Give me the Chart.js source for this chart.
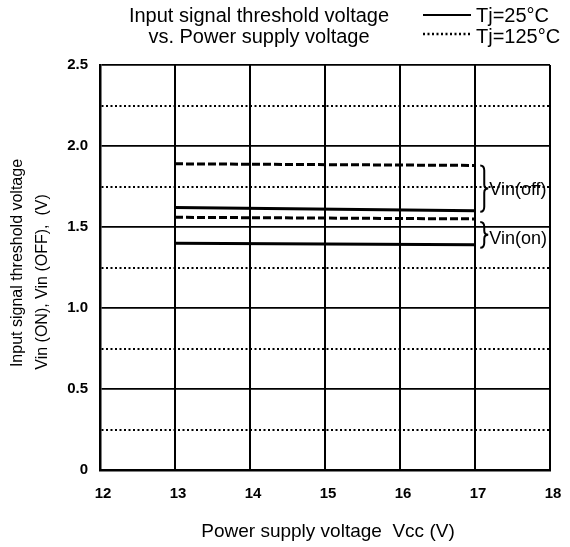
<!DOCTYPE html>
<html>
<head>
<meta charset="utf-8">
<script src="https://cdn.jsdelivr.net/npm/chart.js@4.4.0/dist/chart.umd.min.js"></script>
<style>
  html, body { margin: 0; padding: 0; background: #fff; }
  #wrap { width: 570px; height: 547px; position: relative; }
</style>
</head>
<body>
<div id="wrap"><canvas id="c"></canvas></div>
<script>
// supply voltage range covered by the measured lines
const vcc = [13, 17];
// threshold voltages (V)
const vinOff25 = [1.62, 1.60];
const vinOff125 = [1.89, 1.88];
const vinOn25 = [1.40, 1.39];
const vinOn125 = [1.56, 1.55];

const xTicks = [12, 13, 14, 15, 16, 17, 18];
const yTickLabels = { 0: '0', 0.5: '0.5', 1: '1.0', 1.5: '1.5', 2: '2.0', 2.5: '2.5' };

const FONT = "'Liberation Sans', Arial, sans-serif";

function pts(ys) {
    return vcc.map((x, i) => ({ x: x, y: ys[i] }));
}

function isMajor(v) {
    return Math.abs(v * 2 - Math.round(v * 2)) < 1e-6;
}

// titles, legend, axis titles and braces
const decorations = {
    id: 'decorations',
    afterDraw(chart) {
        const ctx = chart.ctx;
        const xs = chart.scales.x, ys = chart.scales.y;
        ctx.save();
        ctx.fillStyle = '#000';
        ctx.strokeStyle = '#000';

        // chart title
        ctx.font = '20px ' + FONT;
        ctx.textAlign = 'center';
        ctx.textBaseline = 'alphabetic';
        ctx.fillText('Input signal threshold voltage', 259, 22);
        ctx.fillText('vs. Power supply voltage', 259, 43);

        // legend
        ctx.lineWidth = 2;
        ctx.beginPath();
        ctx.moveTo(423, 15); ctx.lineTo(471, 15);
        ctx.stroke();
        ctx.lineWidth = 2.5;
        ctx.setLineDash([2, 2.5]);
        ctx.beginPath();
        ctx.moveTo(423, 34); ctx.lineTo(471, 34);
        ctx.stroke();
        ctx.setLineDash([]);
        ctx.textAlign = 'left';
        ctx.fillText('Tj=25°C', 476, 22);
        ctx.fillText('Tj=125°C', 476, 43);

        // y axis title
        ctx.font = '16px ' + FONT;
        ctx.textAlign = 'center';
        ctx.textBaseline = 'middle';
        ctx.save();
        ctx.translate(18, 263);
        ctx.rotate(-Math.PI / 2);
        ctx.fillText('Input signal threshold voltage', 0, 0);
        ctx.restore();
        ctx.save();
        ctx.translate(43, 282);
        ctx.rotate(-Math.PI / 2);
        ctx.fillText('Vin (ON), Vin (OFF),  (V)', 0, 0);
        ctx.restore();

        // x axis title
        ctx.font = '19px ' + FONT;
        ctx.textBaseline = 'alphabetic';
        ctx.fillText('Power supply voltage  Vcc (V)', 328, 537);

        // braces
        function brace(x0, yTop, yBot) {
            const w = 8;
            const mid = (yTop + yBot) / 2;
            ctx.lineWidth = 2;
            ctx.beginPath();
            ctx.moveTo(x0, yTop);
            ctx.quadraticCurveTo(x0 + w / 2, yTop, x0 + w / 2, yTop + 5);
            ctx.lineTo(x0 + w / 2, mid - 4);
            ctx.quadraticCurveTo(x0 + w / 2, mid, x0 + w, mid);
            ctx.quadraticCurveTo(x0 + w / 2, mid, x0 + w / 2, mid + 4);
            ctx.lineTo(x0 + w / 2, yBot - 5);
            ctx.quadraticCurveTo(x0 + w / 2, yBot, x0, yBot);
            ctx.stroke();
        }
        const bx = xs.getPixelForValue(17.07);
        const offTop = ys.getPixelForValue(vinOff125[1]);
        const offBot = ys.getPixelForValue(vinOff25[1]) + 1;
        const onTop = ys.getPixelForValue(vinOn125[1]) + 3;
        const onBot = ys.getPixelForValue(vinOn25[1]) + 3;
        brace(bx, offTop, offBot);
        brace(bx, onTop, onBot);
        ctx.font = '18px ' + FONT;
        ctx.textAlign = 'left';
        ctx.textBaseline = 'middle';
        ctx.fillText('Vin(off)', bx + 9, (offTop + offBot) / 2 + 1);
        ctx.fillText('Vin(on)', bx + 9, (onTop + onBot) / 2 + 4);

        ctx.restore();
    }
};

const ctx = document.getElementById('c').getContext('2d');
new Chart(ctx, {
    type: 'line',
    data: {
        datasets: [
            { label: 'Vin(off) Tj=125°C', data: pts(vinOff125), borderDash: [8, 3] },
            { label: 'Vin(off) Tj=25°C', data: pts(vinOff25) },
            { label: 'Vin(on) Tj=125°C', data: pts(vinOn125), borderDash: [8, 3] },
            { label: 'Vin(on) Tj=25°C', data: pts(vinOn25) }
        ].map(d => Object.assign({
            borderColor: '#000',
            borderWidth: 3,
            pointRadius: 0,
            fill: false,
            tension: 0
        }, d))
    },
    options: {
        responsive: true,
        maintainAspectRatio: false,
        animation: false,
        layout: { padding: { top: 65, right: 20, left: 0, bottom: 0 } },
        plugins: {
            legend: { display: false },
            tooltip: { enabled: false },
            title: { display: false }
        },
        scales: {
            x: {
                type: 'linear',
                min: 12,
                max: 18,
                afterFit: s => { s.height = 77; },
                afterBuildTicks: s => { s.ticks = xTicks.map(v => ({ value: v })); },
                ticks: {
                    color: '#000',
                    padding: 10,
                    labelOffset: 3,
                    font: { family: FONT, size: 15, weight: 'bold', lineHeight: 1.8 },
                    callback: v => String(v)
                },
                grid: {
                    color: '#000',
                    lineWidth: 2,
                    drawTicks: false
                },
                border: { color: '#000', width: 2.5 }
            },
            y: {
                min: 0,
                max: 2.5,
                afterFit: s => { s.width = 100; },
                ticks: {
                    stepSize: 0.25,
                    color: '#000',
                    padding: 12,
                    font: { family: FONT, size: 15, weight: 'bold' },
                    callback: v => isMajor(v) ? yTickLabels[v] : ''
                },
                grid: {
                    color: '#000',
                    lineWidth: c => isMajor(c.tick.value) ? 1.8 : 2,
                    drawTicks: false
                },
                border: {
                    color: '#000',
                    width: 2.5,
                    dash: c => (c.tick && !isMajor(c.tick.value)) ? [2, 2.5] : []
                }
            }
        }
    },
    plugins: [decorations]
});
</script>
</body>
</html>
